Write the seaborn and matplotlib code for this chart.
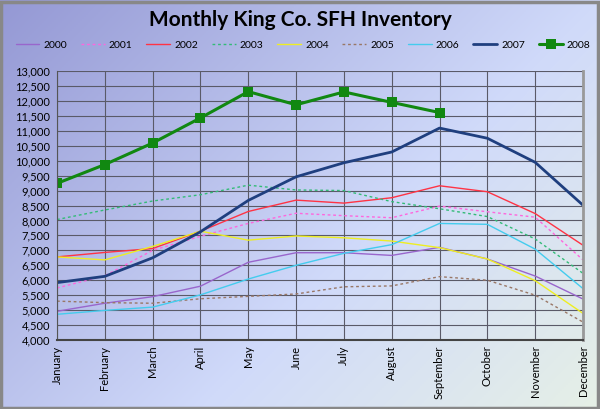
import numpy as np
import pandas as pd
import matplotlib
matplotlib.use("Agg")
import matplotlib.pyplot as plt
import seaborn as sns
from matplotlib.ticker import FuncFormatter, MultipleLocator

months = ["January", "February", "March", "April", "May", "June", "July",
          "August", "September", "October", "November", "December"]
y2000 = [4960, 5230, 5450, 5800, 6600, 6920, 6920, 6830, 7100, 6710, 6140, 5370]
y2001 = [5740, 6150, 7000, 7470, 7900, 8240, 8160, 8090, 8480, 8290, 8110, 6680]
y2002 = [6780, 6930, 7060, 7640, 8300, 8680, 8580, 8760, 9160, 8960, 8230, 7170]
y2003 = [8030, 8350, 8650, 8860, 9180, 9020, 9000, 8630, 8390, 8130, 7380, 6230]
y2004 = [6780, 6680, 7130, 7640, 7340, 7480, 7420, 7310, 7090, 6710, 5985, 4890]
y2005 = [5300, 5250, 5230, 5380, 5460, 5540, 5780, 5810, 6120, 6000, 5500, 4600]
y2006 = [4860, 4990, 5100, 5510, 6040, 6500, 6900, 7190, 7900, 7870, 7040, 5720]
y2007 = [5920, 6130, 6750, 7620, 8670, 9460, 9930, 10290, 11090, 10750, 9945, 8510]
y2008 = [9240, 9870, 10590, 11430, 12310, 11870, 12300, 11950, 11610]

series = {"2000": y2000, "2001": y2001, "2002": y2002, "2003": y2003,
          "2004": y2004, "2005": y2005, "2006": y2006, "2007": y2007,
          "2008": y2008}
rows = []
for yr, vals in series.items():
    for i, v in enumerate(vals):
        rows.append({"Year": yr, "Month": i, "Inventory": v})
df = pd.DataFrame(rows)

styles = {
    "2000": dict(color="#9966cc", lw=1.0, ls="-"),
    "2001": dict(color="#ff66dd", lw=1.0, ls=(0, (2, 2))),
    "2002": dict(color="#ff3344", lw=1.0, ls="-"),
    "2003": dict(color="#33bb77", lw=1.0, ls=(0, (2, 2))),
    "2004": dict(color="#eeee22", lw=1.0, ls="-"),
    "2005": dict(color="#997766", lw=1.0, ls=(0, (2, 2))),
    "2006": dict(color="#44ccee", lw=1.0, ls="-"),
    "2007": dict(color="#1f3f7f", lw=2.0, ls="-"),
    "2008": dict(color="#118811", lw=2.2, ls="-"),
}

sns.set_style("white")
plt.rcParams["font.family"] = ["Lato", "DejaVu Sans"]
plt.rcParams["text.color"] = "black"
plt.rcParams["xtick.color"] = "black"
plt.rcParams["ytick.color"] = "black"

fig = plt.figure(figsize=(6.0, 4.09), dpi=100)

# background gradient
bg = fig.add_axes([0, 0, 1, 1], zorder=-10)
h, w = 200, 300
yy, xx = np.mgrid[0:1:h*1j, 0:1:w*1j]
t = np.clip(0.6 * xx + 0.4 * yy, 0, 1)
c0 = np.array([148, 152, 212]) / 255
c1 = np.array([208, 218, 250]) / 255
c2 = np.array([230, 240, 230]) / 255
img = np.where(t[..., None] < 0.6,
               c0 + (c1 - c0) * (t[..., None] / 0.6),
               c1 + (c2 - c1) * ((t[..., None] - 0.6) / 0.4))
bg.imshow(img, aspect="auto", extent=[0, 1, 0, 1], origin="upper")
bg.set_xlim(0, 1); bg.set_ylim(0, 1)
bg.axis("off")
bg.add_patch(plt.Rectangle((0.002, 0.003), 0.994, 0.993, fill=False,
                           edgecolor="#888888", lw=2.5, transform=bg.transAxes))

ax = fig.add_axes([57/600, 1 - 340/409, (583-57)/600, (340-71)/409])
ax.patch.set_alpha(0.0)

for yr in series:
    st = styles[yr]
    d = df[df["Year"] == yr]
    kw = {}
    if yr == "2008":
        kw = dict(marker="s", markersize=7, markeredgewidth=0)
    sns.lineplot(data=d, x="Month", y="Inventory", ax=ax, color=st["color"],
                 lw=st["lw"], linestyle=st["ls"], label=yr, **kw)

ax.set_xlim(0, 11)
ax.set_ylim(4000, 13000)
ax.yaxis.set_major_locator(MultipleLocator(500))
ax.yaxis.set_major_formatter(FuncFormatter(lambda v, p: f"{int(v):,}"))
ax.set_xticks(range(12))
ax.set_xticklabels(months, rotation=90, fontsize=8)
ax.tick_params(axis="y", labelsize=8, length=3, pad=2)
ax.tick_params(axis="x", length=0, pad=4)
ax.set_xlabel("")
ax.set_ylabel("")
ax.grid(True, color="#5a5a68", lw=0.8)
ax.spines["top"].set_visible(False)
ax.spines["left"].set_color("#555555")
ax.spines["bottom"].set_color("#444444")
ax.spines["bottom"].set_linewidth(1.5)
ax.spines["right"].set_color("#999999")
ax.spines["right"].set_linewidth(2)

handles, labels = ax.get_legend_handles_labels()
ax.legend_.remove()
fig.legend(handles, labels, loc="center", bbox_to_anchor=(0.505, 1 - 45/409),
           ncol=9, frameon=False, fontsize=7.5, handlelength=2.3,
           columnspacing=1.3, handletextpad=0.4)

fig.text(0.5, 1 - 20/409, "Monthly King Co. SFH Inventory", ha="center",
         va="center", fontsize=15, fontweight="bold")

fig.savefig("out.png", dpi=100)
